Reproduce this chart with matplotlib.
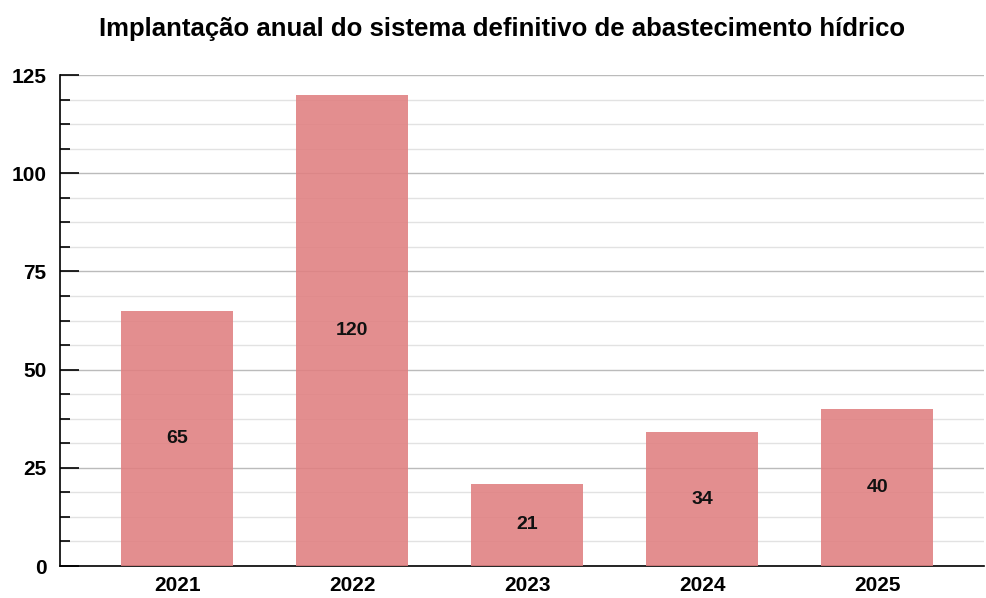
import matplotlib.pyplot as plt
from matplotlib.ticker import MultipleLocator

plt.rcParams['font.family'] = ['Liberation Sans', 'DejaVu Sans']

anos = ['2021', '2022', '2023', '2024', '2025']
valores = [65, 120, 21, 34, 40]

fig = plt.figure(figsize=(9.86, 5.98), dpi=100)
ax = fig.add_axes([0.061, 0.0535, 0.937, 0.821])

x = range(len(anos))
bars = ax.bar(x, valores, width=0.64, color='#e07f80', alpha=0.88, zorder=3)

for b, v in zip(bars, valores):
    ax.text(b.get_x() + b.get_width() / 2, v / 2, str(v), ha='center', va='center',
            fontsize=14, fontweight='bold', color='#111111', zorder=4)

ax.set_xlim(-0.67, 4.61)
ax.set_ylim(0, 125)
ax.set_xticks(list(x))
ax.set_xticklabels(anos, fontsize=15, fontweight='bold')
ax.yaxis.set_major_locator(MultipleLocator(25))
ax.yaxis.set_minor_locator(MultipleLocator(6.25))
for t in ax.get_yticklabels():
    t.set_fontweight('bold')
ax.tick_params(axis='y', which='major', direction='in', length=14, width=1.2, labelsize=15, pad=10)
ax.tick_params(axis='y', which='minor', direction='in', length=7, width=1.2)
ax.tick_params(axis='x', length=0, pad=7)

ax.grid(axis='y', which='major', color='#bbbbbb', linewidth=1, zorder=0)
ax.grid(axis='y', which='minor', color='#e2e2e2', linewidth=1, zorder=0)

for s in ['top', 'right']:
    ax.spines[s].set_visible(False)
ax.spines['left'].set_linewidth(1.2)
ax.spines['bottom'].set_linewidth(1.2)

fig.suptitle('Implantação anual do sistema definitivo de abastecimento hídrico',
             x=0.509, y=0.972, fontsize=18.5, fontweight='bold')

fig.savefig('out.png', dpi=100)
